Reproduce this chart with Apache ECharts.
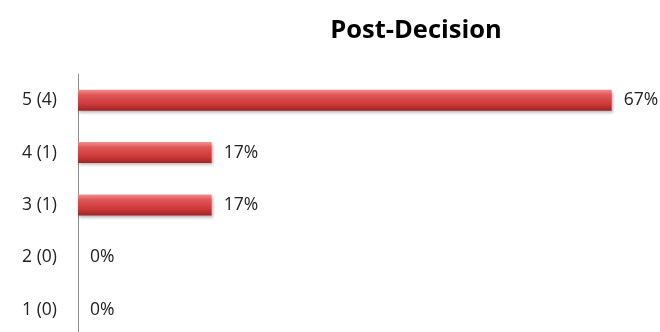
<!DOCTYPE html>
<html>
<head>
<meta charset="utf-8">
<script src="https://cdn.jsdelivr.net/npm/echarts@6/dist/echarts.min.js"></script>
<style>
  html, body { margin: 0; padding: 0; background: #fff; }
  #main { width: 660px; height: 332px; }
</style>
</head>
<body>
<div id="main"></div>
<script>
// rating categories, bottom to top
var categories = ['1 (0)', '2 (0)', '3 (1)', '4 (1)', '5 (4)'];
// share of responses, in percent
var percents = [0, 0, 16.7, 16.7, 66.7];
var pctLabels = ['0%', '0%', '17%', '17%', '67%'];

var myChart = echarts.init(document.getElementById('main'));

var option = {
    animation: false,
    title: {
        text: 'Post-Decision',
        left: 411,
        textAlign: 'center',
        top: 13,
        textStyle: { fontFamily: 'Open Sans', fontWeight: 'bold', fontSize: 25.5, color: '#000' }
    },
    grid: { left: 78, width: 533.7, top: 74, height: 262, outerBoundsMode: 'none' },
    xAxis: {
        type: 'value',
        min: 0,
        max: 66.7,
        show: false
    },
    yAxis: {
        type: 'category',
        data: categories,
        axisLine: { show: true, lineStyle: { color: '#8c8c8c', width: 1 } },
        axisTick: { show: false },
        axisLabel: { color: '#222', fontFamily: 'Open Sans', fontSize: 17.5, margin: 21 }
    },
    series: [{
        type: 'bar',
        data: percents,
        barWidth: 21,
        itemStyle: {
            color: new echarts.graphic.LinearGradient(0, 0, 0, 1, [
                { offset: 0, color: '#f09090' },
                { offset: 0.25, color: '#e05656' },
                { offset: 0.7, color: '#cc3838' },
                { offset: 1, color: '#9e2424' }
            ]),
            shadowColor: 'rgba(0,0,0,0.3)',
            shadowBlur: 3,
            shadowOffsetX: 1,
            shadowOffsetY: 2
        },
        label: {
            show: true,
            position: 'right',
            distance: 12,
            color: '#222',
            fontFamily: 'Open Sans',
            fontSize: 17.5,
            formatter: function (p) { return pctLabels[p.dataIndex]; }
        }
    }]
};

myChart.setOption(option);
</script>
</body>
</html>
